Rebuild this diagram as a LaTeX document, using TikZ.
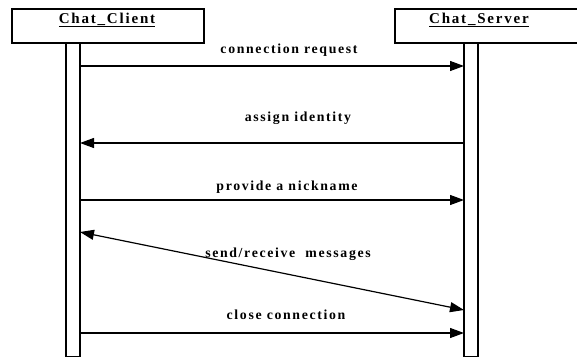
\documentclass[tikz,border=0pt]{standalone}
\usepackage{fontspec}
\setmainfont{Liberation Serif}
\usetikzlibrary{arrows.meta}
\begin{document}
\begin{tikzpicture}[x=1pt,y=-1pt,
  objbox/.style={draw,line width=1.4pt,minimum height=34pt,inner sep=0pt},
  lifebar/.style={draw,line width=1.4pt,minimum width=14pt,minimum height=313pt,inner sep=0pt},
  tip/.style={Triangle[length=14pt,width=10pt]},
  msg/.style={line width=1.2pt,-{Triangle[length=14pt,width=10pt]}},
  bimsg/.style={line width=1.2pt,{Triangle[length=14pt,width=10pt]}-{Triangle[length=14pt,width=10pt]}},
  lbl/.style={font=\fontsize{13.8}{16}\selectfont\bfseries\addfontfeatures{LetterSpace=12}},
  ttl/.style={font=\fontsize{15}{17}\selectfont\bfseries\addfontfeatures{LetterSpace=12}}]
\useasboundingbox (0,0) rectangle (577,358);
% object boxes
\node[objbox,minimum width=192pt] (client) at (108,26) {};
\node[objbox,minimum width=200pt] (server) at (495,26) {};
\node[ttl] (ctitle) at (107,20) {\underline{Chat\_Client}};
\node[ttl] (stitle) at (479,20) {\underline{Chat\_Server}};
% lifelines
\node[lifebar,anchor=north] (cbar) at (73,43) {};
\node[lifebar,anchor=north] (sbar) at (471,43) {};
% endpoints
\coordinate (c1) at (80,66);  \coordinate (s1) at (464,66);
\coordinate (s2) at (464,143); \coordinate (c2) at (80,143);
\coordinate (c3) at (80,200); \coordinate (s3) at (464,200);
\coordinate (c4) at (80,232); \coordinate (s4) at (464,310);
\coordinate (c5) at (80,333); \coordinate (s5) at (464,333);
% messages
\draw[msg] (c1) -- (s1);
\draw[msg] (s2) -- (c2);
\draw[msg] (c3) -- (s3);
\draw[bimsg] (c4) -- (s4);
\draw[msg] (c5) -- (s5);
% labels
\node[lbl] (l1) at (289,50) {connection request};
\node[lbl] (l2) at (298,118) {assign identity};
\node[lbl] (l3) at (287,187) {provide a nickname};
\node[lbl] (l4) at (288,254) {send/receive\ \ messages};
\node[lbl] (l5) at (286,315) {close connection};
\end{tikzpicture}
\end{document}
